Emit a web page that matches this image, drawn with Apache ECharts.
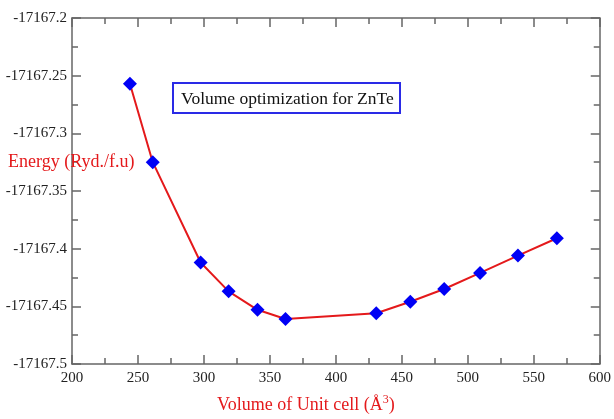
<!DOCTYPE html>
<html>
<head>
<meta charset="utf-8">
<script src="https://cdn.jsdelivr.net/npm/echarts@6/dist/echarts.min.js"></script>
<style>
  html, body { margin: 0; padding: 0; background: #fff; }
  #main { width: 614px; height: 419px; }
</style>
</head>
<body>
<div id="main"></div>
<script>
// values
var volume = [243.9, 261.2, 297.5, 318.7, 340.6, 361.8, 430.6, 456.4, 482.1, 509.3, 538.0, 567.5];
var energy = [-17167.257, -17167.325, -17167.412, -17167.437, -17167.453, -17167.461,
              -17167.456, -17167.446, -17167.435, -17167.421, -17167.406, -17167.391];

var serif = '"Liberation Serif", "DejaVu Serif", serif';
var axisGray = '#666';

var points = volume.map(function (v, i) { return [v, energy[i]]; });

var chart = echarts.init(document.getElementById('main'));

function frameAxis(extra) {
    return Object.assign({
        type: 'value',
        axisLine: { show: true, lineStyle: { color: axisGray, width: 1.5 } },
        axisTick: { show: true, inside: true, length: 9, lineStyle: { color: axisGray, width: 1.5 } },
        minorTick: { show: true, splitNumber: 2, length: 6, lineStyle: { color: axisGray, width: 1.5 } },
        splitLine: { show: false },
        minorSplitLine: { show: false }
    }, extra);
}

chart.setOption({
    animation: false,
    grid: { left: 72, right: 13, top: 18, bottom: 55 },
    xAxis: [
        frameAxis({
            min: 200, max: 600, interval: 50, position: 'bottom',
            axisLabel: { color: '#222', fontFamily: serif, fontSize: 15, margin: 7 }
        }),
        frameAxis({
            min: 200, max: 600, interval: 50, position: 'top',
            axisLabel: { show: false }
        })
    ],
    yAxis: [
        frameAxis({
            min: -17167.5, max: -17167.2, interval: 0.05, position: 'left',
            axisLabel: {
                color: '#222', fontFamily: serif, fontSize: 15, margin: 5,
                formatter: function (v) { return String(+v.toFixed(3)); }
            }
        }),
        frameAxis({
            min: -17167.5, max: -17167.2, interval: 0.05, position: 'right',
            axisLabel: { show: false }
        })
    ],
    series: [{
        type: 'line',
        data: points,
        symbol: 'diamond',
        symbolSize: 14,
        lineStyle: { color: '#e4191b', width: 2 },
        itemStyle: { color: '#0000f5' },
        z: 5
    }],
    graphic: [
        {
            type: 'group', left: 172, top: 82, z: 10,
            children: [
                { type: 'rect', shape: { x: 0, y: 0, width: 227, height: 30 },
                  style: { fill: '#fff', stroke: '#2a2ae6', lineWidth: 2 } },
                { type: 'text', x: 8, y: 16,
                  style: { text: 'Volume optimization for ZnTe', fill: '#111', font: '17.5px ' + serif,
                           verticalAlign: 'middle' } }
            ]
        },
        {
            type: 'text', left: 8, top: 153, z: 10,
            style: { text: 'Energy (Ryd./f.u)', fill: '#e4191b', font: '18px ' + serif }
        },
        {
            type: 'text', left: 217, top: 394, z: 10,
            style: {
                text: 'Volume of Unit cell (Å{sup|3})',
                fill: '#e4191b', font: '18px ' + serif,
                rich: { sup: { fontSize: 12, fontFamily: serif, fill: '#e4191b', padding: [0, 0, 10, 0] } }
            }
        }
    ]
});
</script>
</body>
</html>
